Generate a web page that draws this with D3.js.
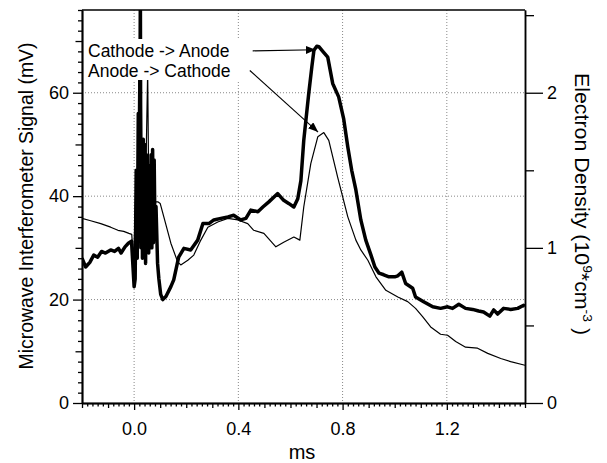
<!DOCTYPE html>
<html><head><meta charset="utf-8">
<script src="https://cdn.jsdelivr.net/npm/d3@7"></script>
<style>
body{margin:0;background:#fff}
svg{display:block;background:#fff}
text{font-family:"Liberation Sans",Arial,Helvetica,sans-serif;fill:#000}
</style>
</head><body>
<svg id="chart" width="607" height="463"></svg>
<script>
// ---------- data ----------
const xDomain = [-0.2, 1.5];          // ms
const yDomain = [0, 76];              // mV
const mVPerDensity = 30;              // 60 mV <-> 2 (10^9 cm^-3)
const xTickValues = [0, 0.4, 0.8, 1.2];
const xTickLabels = ["0.0", "0.4", "0.8", "1.2"];
const yTickValues = [0, 20, 40, 60];
const yRightTickValues = [0, 1, 2];
const yRightMinorTicks = [0.5, 1.5, 2.5];
const seriesNames = ["Cathode -> Anode", "Anode -> Cathode"];

// Cathode -> Anode (thick)
const thickX = [-0.2,-0.186,-0.17,-0.155,-0.14,-0.125,-0.11,-0.09,-0.075,-0.06,-0.05,-0.035,-0.022,-0.01,
  0.000,0.004,0.008,0.012,0.016,0.019,0.022,0.024,0.026,0.029,0.032,0.035,0.038,0.041,0.044,0.047,0.050,0.053,
  0.056,0.059,0.062,0.065,0.068,0.071,0.074,0.077,0.080,0.084,0.090,0.095,
  0.102,0.110,0.122,0.141,0.152,0.171,0.191,0.217,0.244,0.264,0.287,0.306,0.333,0.36,0.382,0.409,0.429,0.448,0.475,
  0.494,0.517,0.551,0.574,0.593,0.613,0.628,0.64,0.651,0.67,0.682,0.69,0.701,0.709,0.724,0.743,0.762,0.785,0.804,
  0.82,0.835,0.851,0.87,0.889,0.909,0.924,0.94,0.958,0.978,1.0,1.012,1.027,1.042,1.069,1.08,1.111,1.146,1.176,
  1.203,1.222,1.246,1.272,1.299,1.322,1.341,1.365,1.38,1.395,1.418,1.445,1.472,1.495,1.5];
const thickY = [28.0,26.3,27.2,28.6,28.2,29.3,29.0,29.6,29.3,29.9,29.0,30.2,30.9,31.3,
  22.5,24,45,28,56,32,55,80,30,50,28,51,30,50,27,48,31,46,
  29,44,30,48,30,49,31,47,33,38,27,24,
  21,20,20.6,22.5,23.8,28.2,29.9,29.6,31.5,34.7,34.7,35.4,35.7,36.0,36.3,35.4,35.7,37.3,37.0,
  37.9,38.9,40.5,39.2,38.6,37.9,39.5,43,50.8,59.8,65,68.2,69,68.9,68,66.9,61.8,59.2,55,
  49.5,45,41.2,35.4,31.5,28.6,26.3,25.1,24.8,24.4,24.4,24.6,25.3,23.1,22.2,20.5,19.6,18.6,18.3,
  18.6,18.3,19.1,18.3,18.1,17.8,17.6,16.8,18.0,17.2,18.3,18.1,18.3,18.9,18.7];

// Anode -> Cathode (thin)
const thinX = [-0.2,-0.17,-0.128,-0.09,-0.062,-0.04,-0.02,-0.009,-0.002,0.006,0.012,0.018,0.022,0.027,0.031,0.036,
  0.042,0.047,0.052,0.057,0.062,0.068,0.074,0.08,0.091,0.1,0.114,0.141,0.167,0.179,0.206,0.229,0.256,0.283,0.321,
  0.36,0.398,0.436,0.459,0.498,0.544,0.574,0.613,0.636,0.651,0.678,0.705,0.728,0.747,0.781,0.82,0.851,0.87,0.897,
  0.928,0.966,1.012,1.05,1.08,1.107,1.138,1.176,1.203,1.234,1.272,1.318,1.357,1.407,1.445,1.5];
const thinY = [35.7,35.3,34.7,34.0,33.4,33.2,32.8,32.6,27,40,30,66,36,64,38,48,
  34,50,64,36,44,35,40,38.9,38.9,38.6,36,30.9,27.3,26.7,27.6,28.6,31.5,34,35,
  35.7,35.4,34.7,33.4,32.8,30.2,31.1,32.1,31.5,37.9,46.3,51.5,52.3,50.8,43.7,36,31.5,29.6,27.6,
  24.4,21.8,20.5,19.6,18.3,16.7,14.7,13.3,13.1,11.9,10.8,10.6,9.6,8.6,8.0,7.3];

// annotation arrows (data coordinates: ms, mV)
const arrowFrom = [[0.455, 68.1], [0.444, 64.3]];
const arrowTo   = [[0.697, 68.3], [0.706, 52.4]];

// ---------- layout ----------
const W = 607, H = 463;
const M = {left: 82, right: 82, top: 10, bottom: 60};
const svg = d3.select("#chart");
const x = d3.scaleLinear().domain(xDomain).range([M.left, W - M.right]);
const y = d3.scaleLinear().domain(yDomain).range([H - M.bottom, M.top]);
const yR = d3.scaleLinear().domain([yDomain[0] / mVPerDensity, yDomain[1] / mVPerDensity]).range([H - M.bottom, M.top]);

const defs = svg.append("defs");
defs.append("clipPath").attr("id", "plotclip").append("rect")
  .attr("x", M.left).attr("y", M.top).attr("width", W - M.left - M.right).attr("height", H - M.top - M.bottom);
defs.append("marker").attr("id", "ah").attr("markerUnits", "userSpaceOnUse")
  .attr("markerWidth", 11).attr("markerHeight", 8).attr("refX", 10).attr("refY", 4).attr("orient", "auto")
  .append("path").attr("d", "M0,0 L10,4 L0,8 Z").attr("fill", "#000");

// grid
const grid = svg.append("g").attr("stroke", "#888").attr("stroke-width", 1).attr("stroke-dasharray", "1,2");
grid.selectAll(".gx").data(xTickValues).join("line")
  .attr("x1", d => x(d)).attr("x2", d => x(d)).attr("y1", M.top).attr("y2", H - M.bottom);
grid.selectAll(".gy").data(yTickValues.filter(d => d > 0)).join("line")
  .attr("x1", M.left).attr("x2", W - M.right).attr("y1", d => y(d)).attr("y2", d => y(d));

// series
const line = d3.line().x(d => x(d[0])).y(d => y(d[1])).curve(d3.curveLinear);
const plot = svg.append("g").attr("clip-path", "url(#plotclip)");
plot.append("path").datum(d3.zip(thinX, thinY)).attr("d", line)
  .attr("fill", "none").attr("stroke", "#000").attr("stroke-width", 1.2).attr("stroke-linejoin", "round");
plot.append("path").datum(d3.zip(thickX, thickY)).attr("d", line)
  .attr("fill", "none").attr("stroke", "#000").attr("stroke-width", 3.5).attr("stroke-linejoin", "round");

// legend (white box masks lines)
svg.append("rect").attr("x", 85).attr("y", 39).attr("width", 161).attr("height", 41).attr("fill", "#fff");
svg.selectAll(".leg").data(seriesNames).join("text")
  .attr("x", 88).attr("y", (d, i) => 57 + i * 19.5)
  .attr("font-size", 17.5).text(d => d);

// arrows
svg.selectAll(".arr").data(arrowFrom).join("line")
  .attr("x1", d => x(d[0])).attr("y1", d => y(d[1]))
  .attr("x2", (d, i) => x(arrowTo[i][0])).attr("y2", (d, i) => y(arrowTo[i][1]))
  .attr("stroke", "#000").attr("stroke-width", 1.1).attr("marker-end", "url(#ah)");

// axes
function styleAxis(g) {
  g.select(".domain").attr("stroke", "#000").attr("stroke-width", 1.5);
  g.selectAll(".tick line").attr("stroke", "#000").attr("stroke-width", 1.3);
  g.selectAll("text").attr("font-family", "Liberation Sans, Arial, sans-serif").attr("fill", "#000");
}
const r2 = v => Math.round(v * 1000) / 1000;
const xMinor = d3.range(0, 86).map(i => r2(-0.2 + i * 0.02)).filter(v => Math.abs(Math.round(v * 10) - v * 10) > 1e-6);
const xMid = d3.range(0, 18).map(i => r2(-0.2 + i * 0.1)).filter(v => !xTickValues.some(t => Math.abs(t - v) < 1e-6));
const xAxisG = svg.append("g").attr("transform", `translate(0,${H - M.bottom})`);
xAxisG.append("g").call(d3.axisBottom(x).tickValues(xMinor).tickSize(3.5).tickSizeOuter(0).tickFormat("")).call(styleAxis);
xAxisG.append("g").call(d3.axisBottom(x).tickValues(xMid).tickSize(5).tickSizeOuter(0).tickFormat("")).call(styleAxis);
xAxisG.append("g").call(d3.axisBottom(x).tickValues(xTickValues).tickSize(7).tickSizeOuter(0).tickPadding(12)
  .tickFormat((d, i) => xTickLabels[i])).call(styleAxis)
  .selectAll("text").attr("font-size", 18);

const yMinor = d3.range(0, 39).map(i => i * 2).filter(v => v % 10 !== 0 && v <= 76);
const yMid = [10, 30, 50, 70];
const yAxisG = svg.append("g").attr("transform", `translate(${M.left},0)`);
yAxisG.append("g").call(d3.axisLeft(y).tickValues(yMinor).tickSize(4).tickSizeOuter(0).tickFormat("")).call(styleAxis);
yAxisG.append("g").call(d3.axisLeft(y).tickValues(yMid).tickSize(6.5).tickSizeOuter(0).tickFormat("")).call(styleAxis);
yAxisG.append("g").call(d3.axisLeft(y).tickValues(yTickValues).tickSize(9).tickSizeOuter(0).tickPadding(4)
  .tickFormat(d3.format("d"))).call(styleAxis)
  .selectAll("text").attr("font-size", 18);

const yRAxisG = svg.append("g").attr("transform", `translate(${W - M.right},0)`);
yRAxisG.append("g").call(d3.axisRight(yR).tickValues(yRightMinorTicks).tickSize(9).tickSizeOuter(0).tickFormat("")).call(styleAxis);
yRAxisG.append("g").call(d3.axisRight(yR).tickValues(yRightTickValues).tickSize(18).tickSizeOuter(0).tickPadding(4)
  .tickFormat(d3.format("d"))).call(styleAxis)
  .selectAll("text").attr("font-size", 18);

// top frame
svg.append("line").attr("x1", M.left).attr("x2", W - M.right).attr("y1", M.top).attr("y2", M.top)
  .attr("stroke", "#000").attr("stroke-width", 1.3);

// axis titles
svg.append("text").attr("transform", "translate(33,206) rotate(-90)")
  .attr("text-anchor", "middle").attr("font-size", 20)
  .attr("textLength", 327).attr("lengthAdjust", "spacingAndGlyphs")
  .text("Microwave Interferometer Signal (mV)");

const rt = svg.append("text").attr("transform", "translate(575,204) rotate(90)")
  .attr("text-anchor", "middle").attr("font-size", 20)
  .attr("textLength", 262).attr("lengthAdjust", "spacingAndGlyphs");
rt.append("tspan").text("Electron Density (10");
rt.append("tspan").attr("dy", -8).attr("font-size", 13).text("9");
rt.append("tspan").attr("dy", 8).text("*cm");
rt.append("tspan").attr("dy", -8).attr("font-size", 13).text("-3");
rt.append("tspan").attr("dy", 8).text(" )");

svg.append("text").attr("x", 302).attr("y", 459).attr("text-anchor", "middle").attr("font-size", 20).text("ms");
</script>
</body></html>
